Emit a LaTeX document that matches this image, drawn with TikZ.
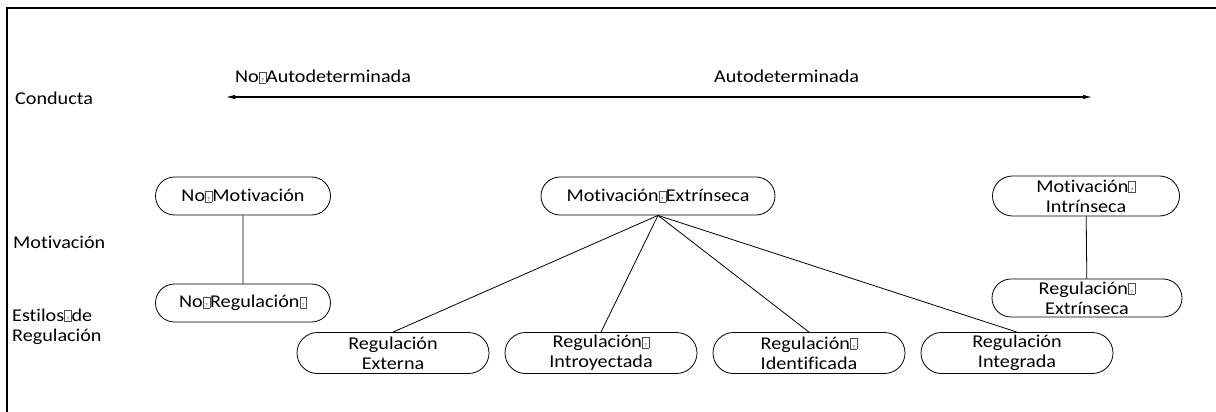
\documentclass[tikz,border=0pt]{standalone}
\usepackage{fontspec}
\setmainfont{Carlito}[FakeStretch=1.12, Ligatures={NoCommon}]
\usetikzlibrary{shapes.misc,arrows.meta}
% small outlined box standing in for an unrenderable character
\newcommand\qb{{\fboxsep=0pt\fboxrule=0.4pt\color{black!70}\fbox{\makebox[0.36em]{\rule{0pt}{0.6em}\fontsize{6}{6}\selectfont ?}}}}
\begin{document}
\begin{tikzpicture}[x=1pt,y=-1pt,
  txt/.style={font=\fontsize{18}{20}\selectfont, inner sep=0pt},
  pill/.style={draw, line width=0.8pt, rounded rectangle, inner sep=0pt,
    minimum height=38pt, align=center, font=\fontsize{18}{20}\selectfont},
  link/.style={line width=0.8pt}]
  \useasboundingbox (0,0) rectangle (1216,412);
  % frame (top and left edges only)
  \draw[line width=1.2pt] (7,412) -- (7,8) -- (1216,8);

  % row labels
  \node[txt, anchor=base west] (lcond) at (15,104) {Conducta};
  \node[txt, anchor=base west] (lmot) at (13,248) {Motivación};
  \node[txt, anchor=base west, align=left] (lest) at (12,341) {Estilos\qb de\\Regulación};

  % behaviour axis
  \node[txt, anchor=base west] (lno) at (235,83) {No\qb Autodeterminada};
  \node[txt, anchor=base west] (lsi) at (714,83) {Autodeterminada};
  \coordinate (axl) at (226,97);
  \coordinate (axr) at (1092,97);
  \draw[line width=1pt, {Latex[length=9pt,width=4.5pt]}-{Latex[length=9pt,width=4.5pt]}] (axl) -- (axr);

  % motivation nodes
  \node[pill, minimum width=175pt] (nomot) at (243,196) {No\qb Motivación};
  \node[pill, minimum width=175pt] (noreg) at (243,303) {No\qb Regulación\qb};
  \node[pill, minimum width=234pt] (motext) at (658,196) {Motivación\qb Extrínseca};
  \node[pill, minimum width=187pt, minimum height=40pt] (motint) at (1086,196) {Motivación\qb\\Intrínseca};
  \node[pill, minimum width=190pt] (regext) at (1087,298) {Regulación\qb\\Extrínseca};

  % regulation styles
  \node[pill, minimum width=192pt, minimum height=41pt] (rexterna) at (393,353) {Regulación\\Externa};
  \node[pill, minimum width=192pt, minimum height=41pt] (rintro) at (601,353) {Regulación\qb\\Introyectada};
  \node[pill, minimum width=192pt, minimum height=41pt] (rident) at (809,353) {Regulación\qb\\Identificada};
  \node[pill, minimum width=192pt, minimum height=41pt] (rinteg) at (1017,353) {Regulación\\Integrada};

  % connectors
  \draw[link] (nomot) -- (noreg);
  \draw[link] (motint) -- (regext);
  \draw[link] (motext.south) -- (rexterna.north);
  \draw[link] (motext.south) -- (rintro.north);
  \draw[link] (motext.south) -- (rident.north);
  \draw[link] (motext.south) -- (rinteg.north);
\end{tikzpicture}
\end{document}
